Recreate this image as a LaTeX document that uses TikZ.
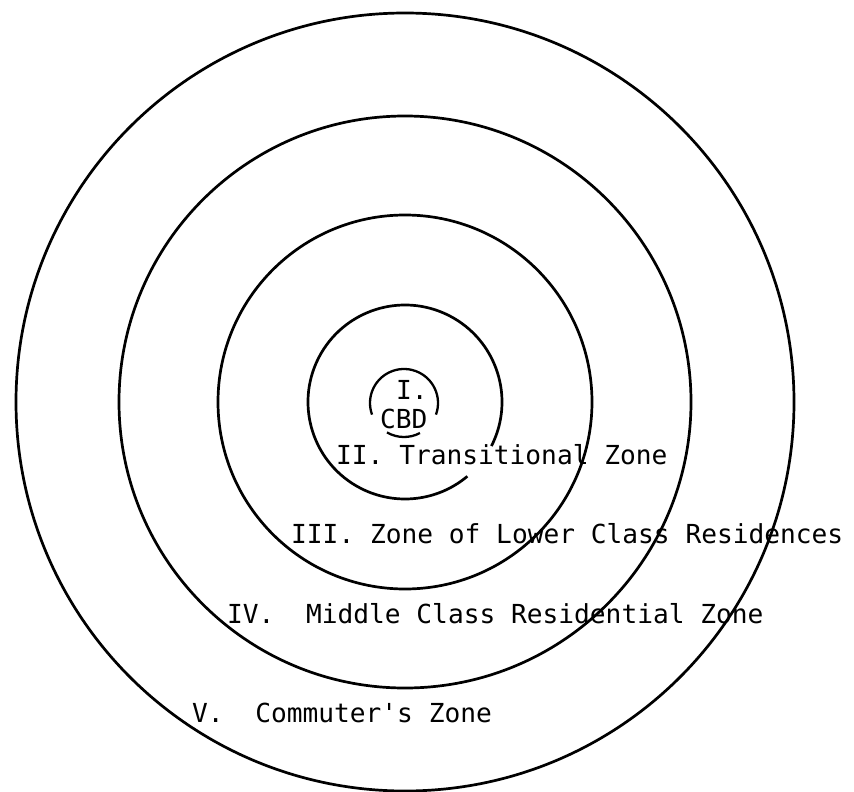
\documentclass[tikz,border=0pt]{standalone}
\usepackage{fontspec}
\newfontfamily\typew{DejaVu Sans Mono}
\usepackage{xcolor}
\usepackage{tikz}
\definecolor{figline}{RGB}{0,0,0}
\tikzset{
  ring/.style  ={draw=figline, line width=2.7pt},
  ringt/.style ={draw=figline, line width=2.3pt},
  zlab/.style  ={font=\typew\fontsize{26.2}{30}\selectfont, inner sep=0pt, anchor=base west},
}
\begin{document}
\begin{tikzpicture}[x=1pt,y=-1pt]
  \useasboundingbox (0,0) rectangle (854,792);
  \coordinate (cen) at (405,402);
  \coordinate (cbd) at (404,403);
  \draw[ring] (cen) circle[radius=389pt];
  \draw[ring] (cen) circle[radius=286pt];
  \draw[ring] (cen) circle[radius=187pt];
  % zone II ring, open where its label runs through
  \draw[ring] ([shift={(-27:97pt)}]cen) arc[start angle=-27, end angle=310, radius=97pt];
  \draw[ringt] ([shift={(-20:34pt)}]cbd) arc[start angle=-20, end angle=200, radius=34pt];
  \draw[ringt] ([shift={(-120:34pt)}]cbd) arc[start angle=-120, end angle=-62, radius=34pt];
  \node[zlab] (cbdnum)  at (396,399) {I.};
  \node[zlab] (cbdname) at (380,428) {CBD};
  \node[zlab] (transz)  at (336,464) {II. Transitional Zone};
  \node[zlab] (lowerz)  at (291,543) {III. Zone of Lower Class Residences};
  \node[zlab] (middlez) at (227,623) {IV.\ \ Middle Class Residential Zone};
  \node[zlab] (commz)   at (192,722) {V.\ \ Commuter's Zone};
\end{tikzpicture}
\end{document}
